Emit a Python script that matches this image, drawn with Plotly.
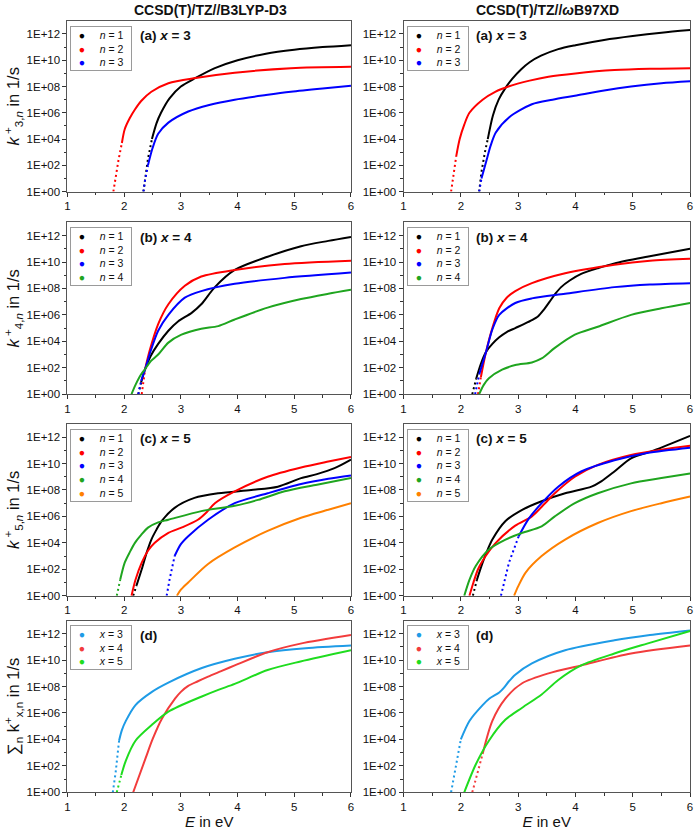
import plotly.graph_objects as go

# ---------------- data: log10(k / s^-1) ----------------
# (a) x = 3, CCSD(T)/TZ//B3LYP-D3
a1_n1_E = [2.34, 2.37, 2.42, 2.49, 2.57, 2.65, 2.8, 3.0, 3.26, 3.6, 4.0, 4.5, 5.0, 5.5, 6.0]
a1_n1_L = [0, 1.0, 2.5, 4.0, 5.2, 6.0, 7.1, 8.0, 8.65, 9.4, 10.0, 10.5, 10.8, 11.0, 11.15]
a1_n2_E = [1.81, 1.85, 1.9, 1.96, 2.01, 2.1, 2.19, 2.3, 2.48, 2.78, 3.26, 3.95, 4.94, 6.0]
a1_n2_L = [0, 1.2, 2.4, 3.7, 4.75, 5.6, 6.25, 6.9, 7.6, 8.25, 8.65, 9.05, 9.4, 9.5]
a1_n3_E = [2.34, 2.37, 2.42, 2.5, 2.6, 2.78, 3.13, 3.5, 3.95, 4.5, 4.94, 5.5, 6.0]
a1_n3_L = [0, 0.9, 2.0, 3.3, 4.4, 5.25, 6.1, 6.6, 7.0, 7.35, 7.6, 7.85, 8.05]
# (a) x = 3, CCSD(T)/TZ//wB97XD
a2_n1_E = [2.32, 2.36, 2.42, 2.47, 2.56, 2.66, 2.78, 2.9, 3.05, 3.2, 3.4, 3.7, 4.0, 4.5, 5.0, 5.5, 6.0]
a2_n1_L = [0, 1.5, 3.0, 4.0, 5.8, 7.0, 7.9, 8.6, 9.3, 9.85, 10.35, 10.85, 11.15, 11.55, 11.85, 12.1, 12.3]
a2_n2_E = [1.83, 1.87, 1.92, 1.98, 2.06, 2.15, 2.38, 2.6, 2.83, 3.2, 3.53, 4.0, 4.68, 5.3, 6.0]
a2_n2_L = [0, 1.4, 2.7, 4.0, 5.1, 6.0, 7.0, 7.6, 8.0, 8.45, 8.75, 9.0, 9.25, 9.35, 9.4]
a2_n3_E = [2.32, 2.36, 2.44, 2.52, 2.61, 2.84, 3.24, 3.6, 3.99, 4.5, 4.97, 5.5, 6.0]
a2_n3_L = [0, 1.0, 2.25, 3.5, 4.5, 5.65, 6.65, 7.0, 7.3, 7.7, 8.0, 8.25, 8.4]

# (b) x = 4, B3LYP-D3
b1_n1_E = [2.25, 2.3, 2.37, 2.47, 2.6, 2.78, 2.95, 3.19, 3.36, 3.6, 3.95, 4.53, 5.12, 5.6, 6.0]
b1_n1_L = [0, 0.9, 1.9, 2.9, 3.8, 4.8, 5.5, 6.15, 6.8, 8.1, 9.4, 10.4, 11.2, 11.6, 11.9]
b1_n2_E = [2.31, 2.34, 2.37, 2.45, 2.6, 2.78, 3.07, 3.36, 3.95, 4.83, 6.0]
b1_n2_L = [0, 1.0, 1.9, 3.3, 5.3, 6.8, 8.2, 8.9, 9.4, 9.85, 10.1]
b1_n3_E = [2.25, 2.3, 2.37, 2.47, 2.6, 2.78, 3.07, 3.36, 3.95, 4.83, 6.0]
b1_n3_L = [0, 1.0, 1.9, 3.3, 4.8, 6.0, 7.3, 7.8, 8.35, 8.8, 9.2]
b1_n4_E = [2.13, 2.2, 2.3, 2.37, 2.47, 2.6, 2.78, 3.01, 3.36, 3.66, 3.95, 4.53, 5.12, 5.6, 6.0]
b1_n4_L = [0, 0.7, 1.5, 1.9, 2.5, 3.0, 3.9, 4.5, 4.95, 5.15, 5.65, 6.55, 7.2, 7.6, 7.9]
# (b) x = 4, wB97XD
b2_n1_E = [2.2, 2.27, 2.35, 2.44, 2.55, 2.67, 2.8, 2.95, 3.1, 3.24, 3.35, 3.45, 3.55, 3.65, 3.75, 3.9,
           4.1, 4.4, 4.68, 5.25, 6.0]
b2_n1_L = [0, 1.2, 2.3, 3.2, 3.8, 4.3, 4.7, 5.0, 5.3, 5.6, 5.9, 6.4, 7.0, 7.6, 8.1, 8.6,
           9.1, 9.55, 9.9, 10.4, 11.0]
b2_n2_E = [2.3, 2.35, 2.44, 2.55, 2.67, 2.8, 2.95, 3.24, 3.82, 4.68, 5.3, 6.0]
b2_n2_L = [0, 1.3, 3.2, 5.0, 6.5, 7.3, 7.8, 8.4, 9.15, 9.8, 10.1, 10.25]
b2_n3_E = [2.25, 2.32, 2.44, 2.55, 2.67, 2.95, 3.24, 3.82, 4.68, 5.3, 6.0]
b2_n3_L = [0, 1.5, 3.2, 4.9, 6.0, 6.9, 7.25, 7.6, 8.1, 8.3, 8.4]
b2_n4_E = [2.32, 2.4, 2.49, 2.72, 2.95, 3.24, 3.41, 3.64, 3.99, 4.39, 4.97, 5.5, 6.0]
b2_n4_L = [0, 0.7, 1.2, 1.85, 2.2, 2.4, 2.7, 3.5, 4.5, 5.1, 6.0, 6.5, 6.9]

# (c) x = 5, B3LYP-D3
c1_n1_E = [2.16, 2.22, 2.31, 2.4, 2.48, 2.57, 2.66, 2.89, 3.24, 3.66, 4.24, 4.71, 5.12, 5.4, 5.71, 6.0]
c1_n1_L = [0, 0.8, 2.0, 3.3, 4.25, 5.0, 5.65, 6.65, 7.4, 7.75, 8.0, 8.25, 8.9, 9.2, 9.65, 10.3]
c1_n2_E = [2.13, 2.2, 2.31, 2.42, 2.54, 2.78, 3.01, 3.3, 3.45, 3.6, 3.95, 4.53, 5.12, 5.6, 6.0]
c1_n2_L = [0, 1.2, 2.5, 3.4, 4.0, 4.75, 5.15, 5.75, 6.3, 7.0, 7.9, 9.0, 9.7, 10.15, 10.5]
c1_n3_E = [2.75, 2.8, 2.89, 3.0, 3.13, 3.48, 3.95, 4.53, 5.12, 5.6, 6.0]
c1_n3_L = [0, 1.2, 3.0, 3.9, 4.5, 5.75, 7.0, 7.75, 8.45, 8.85, 9.1]
c1_n4_E = [1.87, 1.93, 2.01, 2.1, 2.19, 2.3, 2.42, 2.6, 2.78, 3.36, 3.95, 4.36, 4.83, 5.4, 6.0]
c1_n4_L = [0, 1.2, 2.5, 3.3, 4.0, 4.6, 5.15, 5.55, 5.75, 6.4, 6.8, 7.25, 7.9, 8.4, 8.9]
c1_n5_E = [2.93, 3.0, 3.13, 3.48, 3.95, 4.53, 5.12, 5.6, 6.0]
c1_n5_L = [0, 0.45, 1.0, 2.4, 3.65, 4.9, 5.9, 6.5, 7.0]
# (c) x = 5, wB97XD
c2_n1_E = [2.21, 2.28, 2.38, 2.47, 2.55, 2.78, 3.07, 3.41, 3.82, 4.28, 4.45, 4.68, 4.97, 5.37, 6.0]
c2_n1_L = [0, 1.2, 2.5, 3.5, 4.25, 5.65, 6.5, 7.15, 7.75, 8.25, 8.65, 9.4, 10.4, 11.0, 12.1]
c2_n2_E = [2.15, 2.22, 2.3, 2.38, 2.61, 2.95, 3.24, 3.47, 3.64, 3.99, 4.39, 4.97, 5.5, 6.0]
c2_n2_L = [0, 1.0, 2.0, 2.65, 4.0, 5.3, 6.0, 7.0, 7.75, 9.0, 9.9, 10.65, 11.05, 11.35]
c2_n3_E = [2.7, 2.77, 2.84, 3.01, 3.18, 3.41, 3.7, 4.1, 4.68, 5.25, 6.0]
c2_n3_L = [0, 1.2, 2.5, 4.5, 5.8, 7.0, 8.25, 9.4, 10.25, 10.8, 11.2]
c2_n4_E = [2.06, 2.15, 2.26, 2.49, 2.78, 3.07, 3.41, 3.64, 3.99, 4.39, 4.97, 5.5, 6.0]
c2_n4_L = [0, 1.2, 2.25, 3.5, 4.25, 4.75, 5.25, 6.0, 7.0, 7.75, 8.5, 8.9, 9.25]
c2_n5_E = [2.93, 3.0, 3.13, 3.41, 3.82, 4.39, 4.97, 5.5, 6.0]
c2_n5_L = [0, 0.7, 1.75, 3.0, 4.25, 5.5, 6.4, 7.0, 7.5]

# (d) sums, B3LYP-D3
d1_x3_E = [1.8, 1.85, 1.91, 1.96, 2.03, 2.2, 2.49, 2.78, 3.37, 3.95, 4.53, 5.2, 6.0]
d1_x3_L = [0, 1.5, 3.9, 4.7, 5.4, 6.6, 7.6, 8.3, 9.4, 10.1, 10.6, 10.9, 11.1]
d1_x4_E = [2.16, 2.38, 2.5, 2.67, 2.9, 3.0, 3.13, 3.3, 3.48, 3.7, 3.95, 4.53, 5.11, 6.0]
d1_x4_L = [0, 2.6, 4.0, 5.6, 7.1, 7.6, 8.05, 8.4, 8.75, 9.15, 9.6, 10.6, 11.25, 11.9]
d1_x5_E = [1.87, 1.95, 2.03, 2.2, 2.49, 2.78, 3.37, 3.66, 3.95, 4.53, 5.11, 6.0]
d1_x5_L = [0, 1.3, 2.4, 3.9, 5.1, 6.1, 7.25, 7.75, 8.2, 9.25, 9.9, 10.75]
# (d) sums, wB97XD
d2_x3_E = [1.83, 1.88, 1.92, 2.0, 2.15, 2.38, 2.5, 2.67, 2.75, 2.84, 2.95, 3.24, 3.82, 4.68, 5.3, 6.0]
d2_x3_L = [0, 1.2, 2.1, 4.0, 5.4, 6.6, 7.1, 7.55, 7.9, 8.4, 8.9, 9.75, 10.75, 11.5, 11.9, 12.25]
d2_x4_E = [2.2, 2.38, 2.55, 2.78, 3.07, 3.53, 4.1, 4.97, 6.0]
d2_x4_L = [0, 2.9, 5.4, 7.1, 8.25, 9.0, 9.6, 10.5, 11.1]
d2_x5_E = [2.06, 2.26, 2.49, 2.78, 3.07, 3.41, 3.7, 4.1, 4.68, 5.25, 6.0]
d2_x5_L = [0, 2.1, 3.9, 5.5, 6.4, 7.4, 8.5, 9.6, 10.5, 11.25, 12.2]

col_titles = ["CCSD(T)/TZ//B3LYP-D3", "CCSD(T)/TZ//<i>ω</i>B97XD"]
panel_labels = ["<b>(a) <i>x</i> = 3</b>", "<b>(b) <i>x</i> = 4</b>", "<b>(c) <i>x</i> = 5</b>", "<b>(d)</b>"]
y_titles = ["<i>k</i><sup> +</sup><sub>3,<i>n</i></sub> in 1/s",
            "<i>k</i><sup> +</sup><sub>4,<i>n</i></sub> in 1/s",
            "<i>k</i><sup> +</sup><sub>5,<i>n</i></sub> in 1/s",
            "∑<sub>n</sub> k<sup>+</sup><sub>x,n</sub> in 1/s"]
ytick_exp = [0, 2, 4, 6, 8, 10, 12]
ytick_text = ["1E+%02d" % e for e in ytick_exp]
yminor_exp = [1, 3, 5, 7, 9, 11]
xtick_vals = [1, 2, 3, 4, 5, 6]
xminor_vals = [1.5, 2.5, 3.5, 4.5, 5.5]

# ---------------- styling ----------------
C_N = ["#000000", "#ff0000", "#0000ff", "#1fa51f", "#ff8000"]
C_X = ["#1e9be6", "#f23c3c", "#1fdc1f"]
# level (log10 k) up to which the steep onset of each curve appears as sparse dots
DOTTED_UNTIL = [
    [[4.0, 3.7, 2.0], [4.0, 2.7, 1.0]],
    [[0.9, 1.9, 1.0, 0], [1.2, 1.3, 1.5, 0]],
    [[0.8, 0, 3.0, 1.2, 0], [1.2, 0, 4.5, 0, 0]],
    [[3.9, 0, 1.3], [4.0, 2.9, 0]],
]

panels = [
    [[(a1_n1_E, a1_n1_L), (a1_n2_E, a1_n2_L), (a1_n3_E, a1_n3_L)],
     [(a2_n1_E, a2_n1_L), (a2_n2_E, a2_n2_L), (a2_n3_E, a2_n3_L)]],
    [[(b1_n1_E, b1_n1_L), (b1_n2_E, b1_n2_L), (b1_n3_E, b1_n3_L), (b1_n4_E, b1_n4_L)],
     [(b2_n1_E, b2_n1_L), (b2_n2_E, b2_n2_L), (b2_n3_E, b2_n3_L), (b2_n4_E, b2_n4_L)]],
    [[(c1_n1_E, c1_n1_L), (c1_n2_E, c1_n2_L), (c1_n3_E, c1_n3_L), (c1_n4_E, c1_n4_L), (c1_n5_E, c1_n5_L)],
     [(c2_n1_E, c2_n1_L), (c2_n2_E, c2_n2_L), (c2_n3_E, c2_n3_L), (c2_n4_E, c2_n4_L), (c2_n5_E, c2_n5_L)]],
    [[(d1_x3_E, d1_x3_L), (d1_x4_E, d1_x4_L), (d1_x5_E, d1_x5_L)],
     [(d2_x3_E, d2_x3_L), (d2_x4_E, d2_x4_L), (d2_x5_E, d2_x5_L)]],
]

W, H = 699, 834
COL_PX = [(65, 351), (404, 693)]
ROW_PX = [(21, 193), (224, 397), (427, 600), (625, 798)]
FONT = "Liberation Sans, Arial, sans-serif"


def px_x(p):
    return p / W


def px_y(p):
    return 1 - p / H


fig = go.Figure()
annotations = []
layout_axes = {}

for r in range(4):
    for c in range(2):
        k = r * 2 + c + 1
        xa, ya = f"x{k}", f"y{k}"
        colors = C_X if r == 3 else C_N
        for i, (E, L) in enumerate(panels[r][c]):
            thr = DOTTED_UNTIL[r][c][i]
            j = 0
            if thr > 0:
                j = max(idx for idx, v in enumerate(L) if v <= thr + 1e-9)
                fig.add_trace(go.Scatter(
                    x=E[:j + 1], y=[10 ** v for v in L[:j + 1]], mode="lines",
                    line=dict(color=colors[i], width=2, dash="2px,3px"),
                    xaxis=xa, yaxis=ya, showlegend=False, hoverinfo="skip"))
            fig.add_trace(go.Scatter(
                x=E[j:], y=[10 ** v for v in L[j:]], mode="lines",
                line=dict(color=colors[i], width=2, shape="spline", smoothing=0.8),
                xaxis=xa, yaxis=ya, showlegend=False, hoverinfo="skip"))
        x0, x1 = COL_PX[c]
        y0, y1 = ROW_PX[r]
        xax = dict(domain=[px_x(x0), px_x(x1)], anchor=ya, range=[1, 6],
                   tickvals=xtick_vals, ticks="outside", ticklen=4, tickwidth=1,
                   tickcolor="#333", showline=True, linecolor="#555", linewidth=1,
                   mirror=True, showgrid=False, zeroline=False,
                   tickfont=dict(size=11.5, color="#111"),
                   minor=dict(tickvals=xminor_vals, ticks="outside",
                              ticklen=2.5, tickcolor="#333"))
        if r == 3:
            xax["title"] = dict(text="<i>E</i> in eV", font=dict(size=15, color="#111"), standoff=4)
        yax = dict(domain=[px_y(y1), px_y(y0)], anchor=xa, type="log", range=[0, 13],
                   tickvals=[10 ** e for e in ytick_exp], ticktext=ytick_text,
                   ticks="outside", ticklen=4, tickwidth=1, tickcolor="#333",
                   showline=True, linecolor="#555", linewidth=1, mirror=True,
                   showgrid=False, zeroline=False, tickfont=dict(size=11.5, color="#111"),
                   minor=dict(tickvals=[10 ** e for e in yminor_exp], ticks="outside",
                              ticklen=2.5, tickcolor="#333"))
        if c == 0:
            yax["title"] = dict(text=y_titles[r], font=dict(size=16.5, color="#111"), standoff=2)
        layout_axes["xaxis" if k == 1 else f"xaxis{k}"] = xax
        layout_axes["yaxis" if k == 1 else f"yaxis{k}"] = yax

        # panel label
        annotations.append(dict(text=panel_labels[r], x=px_x(x0 + 71), y=px_y(y0 + 15),
                                xref="paper", yref="paper", xanchor="left", yanchor="middle",
                                showarrow=False, font=dict(size=13.5, color="#111")))
        # legend box
        n = len(panels[r][c])
        lines = []
        for i in range(n):
            lab = f"<i>x</i> = {i + 3}" if r == 3 else f"<i>n</i> = {i + 1}"
            lines.append(f"\u00a0\u00a0<span style='color:{colors[i]}'>●</span>"
                         f"\u00a0\u00a0\u00a0\u00a0\u00a0{lab}\u00a0\u00a0")
        annotations.append(dict(text="<br>".join(lines), x=px_x(x0 + 3), y=px_y(y0 + 5),
                                xref="paper", yref="paper", xanchor="left", yanchor="top",
                                align="left", showarrow=False, bordercolor="#9a9a9a",
                                borderwidth=1, borderpad=2, bgcolor="white",
                                font=dict(size=10.5, color="#111")))

for c in range(2):
    x0, x1 = COL_PX[c]
    annotations.append(dict(text=f"<b>{col_titles[c]}</b>", x=px_x((x0 + x1) / 2 + 1),
                            y=px_y(10), xref="paper", yref="paper", xanchor="center",
                            yanchor="middle", showarrow=False, font=dict(size=14, color="#111")))

fig.update_layout(width=W, height=H, autosize=False,
                  margin=dict(l=0, r=0, t=0, b=0),
                  paper_bgcolor="white", plot_bgcolor="white",
                  font=dict(family=FONT, color="#111"),
                  annotations=annotations, showlegend=False, **layout_axes)

fig.write_html("out.html", config={"displayModeBar": False},
               post_script="document.body.style.margin='0';document.body.style.overflow='hidden';")
